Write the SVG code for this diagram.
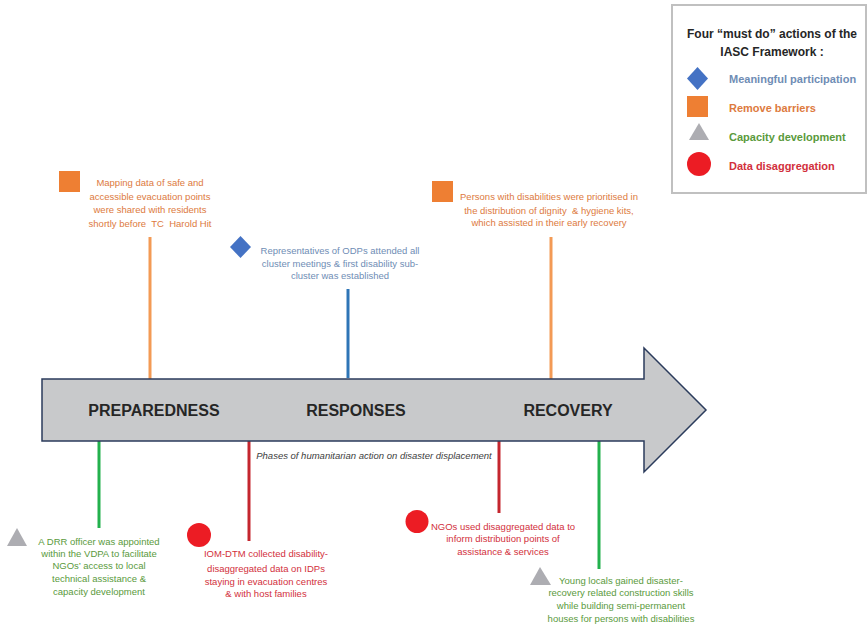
<svg xmlns="http://www.w3.org/2000/svg" width="868" height="626" viewBox="0 0 868 626">
<style>
text{font-family:"Liberation Sans",Arial,sans-serif;}
.t{font-size:9.5px;text-anchor:middle;}
.or{fill:#dd7a3e;}
.bl{fill:#6f8db5;}
.gr{fill:#5a9a3c;}
.rd{fill:#d2303c;}
.ph{font-size:16px;font-weight:bold;fill:#262626;text-anchor:middle;}
.lg{font-size:11px;font-weight:bold;}
.sq{fill:#ee7f33;}
.dm{fill:#4472c4;}
.tr{fill:#adadb2;}
.ci{fill:#ec1c24;}
.ln{stroke-width:3;fill:none;}
</style>
<rect width="868" height="626" fill="#ffffff"/>
<g id="connectors">
<line class="ln" x1="150" y1="237" x2="150" y2="379" stroke="#f39a55"/>
<line class="ln" x1="348" y1="289" x2="348" y2="378" stroke="#2e75b6"/>
<line class="ln" x1="551" y1="237" x2="551" y2="379" stroke="#f39a55"/>
<line class="ln" x1="99" y1="440" x2="99" y2="528" stroke="#23b14d"/>
<line class="ln" x1="249" y1="440" x2="249" y2="541" stroke="#c4262e"/>
<line class="ln" x1="499" y1="441" x2="499" y2="513" stroke="#c4262e"/>
<line class="ln" x1="599" y1="437" x2="599" y2="569" stroke="#23b14d"/>
</g>
<g id="timeline">
<path d="M42,379 H644 V348 L706,410 L644,472 V441 H42 Z" fill="#c8c9cb" stroke="#2b3b5c" stroke-width="1.5"/>
<text class="ph" x="154" y="416">PREPAREDNESS</text>
<text class="ph" x="356" y="416">RESPONSES</text>
<text class="ph" x="568" y="416">RECOVERY</text>
<text x="374" y="459" font-size="9.5" font-style="italic" fill="#404040" text-anchor="middle">Phases of humanitarian action on disaster displacement</text>
</g>
<g id="legend">
<rect x="672" y="5" width="194" height="188" fill="#ffffff" stroke="#c0c0c0" stroke-width="2"/>
<text x="772" y="38" font-size="12px" font-weight="bold" fill="#262626" text-anchor="middle">Four “must do” actions of the</text>
<text x="772" y="56" font-size="12px" font-weight="bold" fill="#262626" text-anchor="middle">IASC Framework :</text>
<polygon class="dm" points="697.5,67 708,78.5 697.5,90 687,78.5"/>
<text class="lg bl" x="729" y="83">Meaningful participation</text>
<rect class="sq" x="687" y="96" width="21" height="21"/>
<text class="lg or" x="729" y="112">Remove barriers</text>
<polygon class="tr" points="699,123 709,140 689,140"/>
<text class="lg gr" x="729" y="141">Capacity development</text>
<circle class="ci" cx="699" cy="164" r="12"/>
<text class="lg rd" x="729" y="170">Data disaggregation</text>
</g>
<g id="node-mapping">
<rect class="sq" x="59" y="171" width="21" height="21"/>
<text class="t or" x="150" y="186">Mapping data of safe and</text>
<text class="t or" x="150" y="200">accessible evacuation points</text>
<text class="t or" x="150" y="213">were shared with residents</text>
<text class="t or" x="150" y="227" xml:space="preserve">shortly before  TC  Harold Hit</text>
</g>
<g id="node-odps">
<polygon class="dm" points="240.5,236 251,247 240.5,258 230,247"/>
<text class="t bl" x="340" y="254">Representatives of ODPs attended all</text>
<text class="t bl" x="340" y="267">cluster meetings &amp; first disability sub-</text>
<text class="t bl" x="340" y="279">cluster was established</text>
</g>
<g id="node-kits">
<rect class="sq" x="432" y="181" width="21" height="21"/>
<text class="t or" x="549" y="200">Persons with disabilities were prioritised in</text>
<text class="t or" x="549" y="214" xml:space="preserve">the distribution of dignity  &amp; hygiene kits,</text>
<text class="t or" x="549" y="226">which assisted in their early recovery</text>
</g>
<g id="node-drr">
<polygon class="tr" points="17,528 27,546 7,546"/>
<text class="t gr" x="99" y="545">A DRR officer was appointed</text>
<text class="t gr" x="99" y="557">within the VDPA to facilitate</text>
<text class="t gr" x="99" y="569">NGOs’ access to local</text>
<text class="t gr" x="99" y="582">technical assistance &amp;</text>
<text class="t gr" x="99" y="595">capacity development</text>
</g>
<g id="node-iom">
<circle class="ci" cx="199" cy="535" r="12"/>
<text class="t rd" x="266" y="557">IOM-DTM collected disability-</text>
<text class="t rd" x="266" y="572">disaggregated data on IDPs</text>
<text class="t rd" x="266" y="585">staying in evacuation centres</text>
<text class="t rd" x="266" y="597">&amp; with host families</text>
</g>
<g id="node-ngos">
<circle class="ci" cx="417" cy="521.5" r="11.5"/>
<text class="t rd" x="503" y="530">NGOs used disaggregated data to</text>
<text class="t rd" x="503" y="542">inform distribution points of</text>
<text class="t rd" x="503" y="555">assistance &amp; services</text>
</g>
<g id="node-young">
<polygon class="tr" points="540,567 551,585 530,585"/>
<text class="t gr" x="621" y="584">Young locals gained disaster-</text>
<text class="t gr" x="621" y="596">recovery related construction skills</text>
<text class="t gr" x="621" y="609">while building semi-permanent</text>
<text class="t gr" x="621" y="622">houses for persons with disabilities</text>
</g>
</svg>
